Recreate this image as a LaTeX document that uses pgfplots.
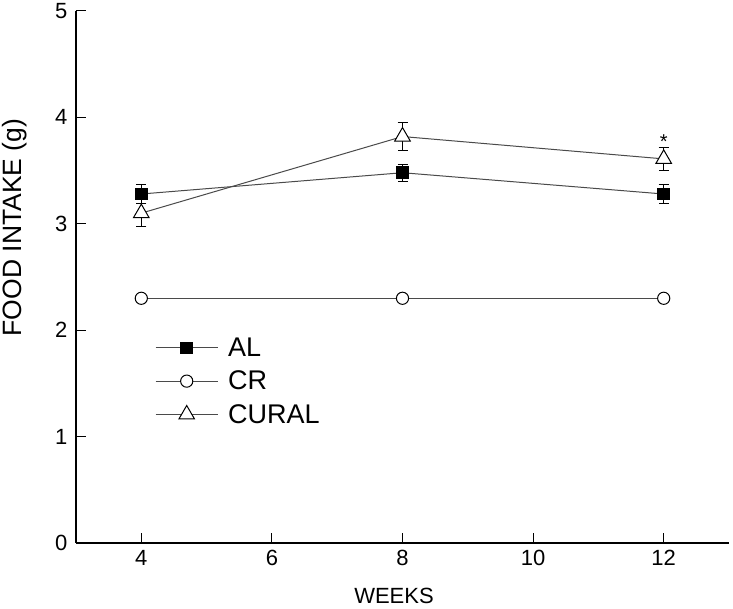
\documentclass[border=0pt]{standalone}
\usepackage{pgfplots}
\pgfplotsset{compat=1.18}
\usepackage{fontspec}
\setmainfont{Liberation Sans}
\definecolor{ln}{HTML}{4A4A4A}
\begin{document}
\begin{tikzpicture}
\path[use as bounding box] (-76pt,-66pt) rectangle (657pt,543pt);
\begin{axis}[at={(0pt,0pt)}, anchor=south west, scale only axis,
  width=653pt, height=532pt,
  xmin=3, xmax=13, ymin=0, ymax=5,
  axis lines=left, axis line style={-, line width=1.3pt, black},
  xtick={4,6,8,10,12}, ytick={0,1,2,3,4,5},
  tick align=inside, major tick length=10pt,
  tick style={line width=1pt, black},
  /pgf/number format/assume math mode=true,
  ticklabel style={font=\fontsize{22}{22}\selectfont},
  xticklabel style={yshift=-4pt},
  yticklabel style={xshift=-5pt},
  xlabel={WEEKS}, ylabel={FOOD INTAKE (g)},
  xlabel style={font=\fontsize{22}{22}\selectfont, at={(axis description cs:0.487,0)}, anchor=base, yshift=-61pt},
  ylabel style={font=\fontsize{26.5}{26.5}\selectfont, at={(axis description cs:-0.0827,0.593)}, anchor=base},
  legend cell align=left,
  legend style={draw=none, fill=none, at={(axis cs:4.21,1.52)}, anchor=west, inner sep=0pt, row sep=9pt, column sep=8pt, font=\fontsize{27}{27}\selectfont},
  legend image code/.code={\draw[mark repeat=2, mark phase=2, #1] plot coordinates {(0pt,0pt) (31pt,0pt) (62pt,0pt)};},
]
\addplot[ln, line width=1pt, mark=square*, mark size=5.85pt, mark options={black, solid},
  error bars/.cd, y dir=both, y explicit,
  error bar style={black, line width=1pt},
  error mark options={rotate=90, mark size=5pt, black, line width=1pt}]
  coordinates {(4,3.28) +- (0,0.09) (8,3.48) +- (0,0.08) (12,3.28) +- (0,0.09)};
\addlegendentry{AL}
\addplot[ln, line width=1pt, mark=*, mark size=6.1pt, mark options={draw=black, fill=white, solid}]
  coordinates {(4,2.30) (8,2.30) (12,2.30)};
\addlegendentry{CR}
\addplot[ln, line width=1pt, mark=triangle*, mark size=9pt, mark options={draw=black, fill=white, solid},
  error bars/.cd, y dir=both, y explicit,
  error bar style={black, line width=1pt},
  error mark options={rotate=90, mark size=5pt, black, line width=1pt}]
  coordinates {(4,3.10) +- (0,0.13) (8,3.82) +- (0,0.13) (12,3.61) +- (0,0.105)};
\addlegendentry{CURAL}
\node[font=\fontsize{20}{20}\selectfont, anchor=base] at (axis cs:12,3.71) {*};
\end{axis}
\end{tikzpicture}
\end{document}
